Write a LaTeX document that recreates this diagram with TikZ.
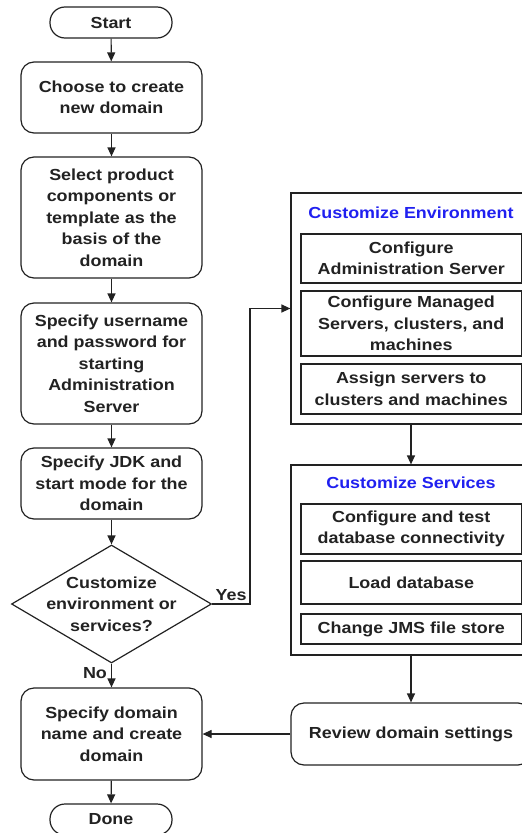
\documentclass[tikz,border=0pt]{standalone}
\usepackage{fontspec}
\setmainfont{Liberation Sans}[FakeStretch=1.12]
\usetikzlibrary{shapes.geometric,arrows.meta}
\definecolor{ln}{HTML}{222222}
\definecolor{ttl}{HTML}{2020F0}
\begin{document}
\begin{tikzpicture}[x=1pt,y=-1pt,
 every node/.style={font=\fontsize{16}{21.5}\selectfont\bfseries, text=ln, align=center, inner sep=0pt},
 box/.style={draw=ln, fill=white, line width=1.2pt, rounded corners=13pt, minimum width=181pt},
 term/.style={draw=ln, fill=white, line width=1.2pt, rounded corners=15pt, minimum width=122pt, minimum height=31pt},
 sq/.style={draw=ln, fill=white, line width=1.2pt, minimum width=220.5pt},
 grp/.style={draw=ln, fill=white, line width=1.2pt, minimum width=240pt},
 ttlnode/.style={text=ttl},
 conn/.style={draw=ln, line width=1.2pt, -{Triangle[length=9pt,width=8pt]}},
]
\useasboundingbox (0,0) rectangle (522,833);
\clip (0,0) rectangle (522,833);
% left column
\node[term] (start) at (111,22.5) {Start};
\node[box, minimum height=71pt] (choose) at (111.5,97.5) {Choose to create\\new domain};
\node[box, minimum height=121pt] (select) at (111.5,217.5) {Select product\\components or\\template as the\\basis of the\\domain};
\node[box, minimum height=121pt] (user) at (111.5,363.5) {Specify username\\and password for\\starting\\Administration\\Server};
\node[box, minimum height=71pt] (jdk) at (111.5,483.5) {Specify JDK and\\start mode for the\\domain};
\node[draw=ln, fill=white, line width=1.2pt, diamond, minimum width=200pt, minimum height=118pt,
      label={[align=center]center:{Customize\\environment or\\services?}}] (dec) at (111.5,604) {};
\node[box, minimum height=92pt] (domain) at (111.5,734) {Specify domain\\name and create\\domain};
\node[term] (done) at (111,819.5) {Done};
% right column
\node[grp, minimum height=231pt] (env) at (411,308.5) {};
\node[ttlnode] (envt) at (411,213) {Customize Environment};
\node[sq, minimum height=49pt] (e1) at (411.25,258.5) {Configure\\Administration Server};
\node[sq, minimum height=65pt] (e2) at (411.25,323.5) {Configure Managed\\Servers, clusters, and\\machines};
\node[sq, minimum height=50pt] (e3) at (411.25,389) {Assign servers to\\clusters and machines};
\node[grp, minimum height=190pt] (svc) at (411,560) {};
\node[ttlnode] (svct) at (411,483) {Customize Services};
\node[sq, minimum height=50pt] (s1) at (411.25,529) {Configure and test\\database connectivity};
\node[sq, minimum height=43pt] (s2) at (411.25,582.5) {Load database};
\node[sq, minimum height=30pt] (s3) at (411.25,629) {Change JMS file store};
\node[box, minimum width=240pt, minimum height=62pt] (review) at (411,734) {Review domain settings};
% connectors
\draw[conn] (start) -- (choose);
\draw[conn] (choose) -- (select);
\draw[conn] (select) -- (user);
\draw[conn] (user) -- (jdk);
\draw[conn] (jdk) -- (dec);
\draw[conn] (dec.south) -- node[anchor=east, pos=0.4, xshift=-4pt] (nolab) {No} (domain.north);
\draw[conn] (domain) -- (done);
\coordinate (yc) at (250,604);
\draw[conn] (dec.east) -- node[above=3pt] (yeslab) {Yes} (yc) |- (env.west);
\draw[conn] (env.south) -- (svc.north);
\draw[conn] (svc.south) -- (review.north);
\draw[conn] (review.west) -- (domain.east);
\end{tikzpicture}
\end{document}
